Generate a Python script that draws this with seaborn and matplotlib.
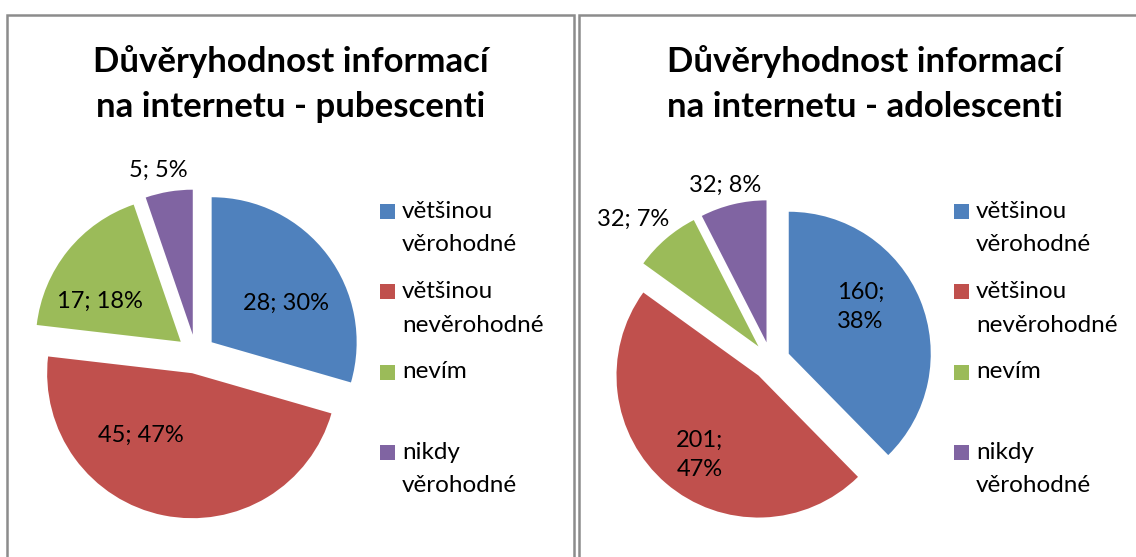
import matplotlib
matplotlib.use("Agg")
import matplotlib.pyplot as plt
import seaborn as sns
from matplotlib.patches import Rectangle

# --- data ---
categories = ["většinou\nvěrohodné", "většinou\nnevěrohodné", "nevím", "nikdy\nvěrohodné"]
pub_counts = [28, 45, 17, 5]
pub_pct = [30, 47, 18, 5]
ado_counts = [160, 201, 32, 32]
ado_pct = [38, 47, 7, 8]
titles = ["Důvěryhodnost informací\nna internetu - pubescenti",
          "Důvěryhodnost informací\nna internetu - adolescenti"]

# --- style ---
sns.set_theme(style="white")
plt.rcParams["font.family"] = ["Lato", "DejaVu Sans"]
colors = sns.color_palette(["#4F81BD", "#C0504D", "#9BBB59", "#8064A2"])

W, H = 1136, 557
fig = plt.figure(figsize=(W / 100, H / 100), dpi=100)
fig.patch.set_facecolor("white")


def fx(px):
    return px / W


def fy(py):
    return 1 - py / H


# chart frames
for x0, x1 in [(7, 574), (579, 1160)]:
    fig.add_artist(Rectangle((fx(x0), fy(600)), fx(x1 - x0), (600 - 15) / H,
                             transform=fig.transFigure, fill=False,
                             edgecolor="#8c8c8c", linewidth=1.8))

# pie settings: centre (px), radius (px), label positions in radius units
pies = [
    dict(counts=pub_counts, pct=pub_pct, title=titles[0], cx=196, cy=354, r=145,
         title_x=291, legend_x=380,
         label_xy=[(0.62, 0.35), (-0.38, -0.56), (-0.66, 0.36), (-0.26, 1.27)],
         wrap=[False, False, False, False]),
    dict(counts=ado_counts, pct=ado_pct, title=titles[1], cx=771, cy=361, r=142,
         title_x=865, legend_x=954,
         label_xy=[(0.63, 0.38), (-0.50, -0.66), (-0.97, 1.00), (-0.32, 1.24)],
         wrap=[True, True, False, False]),
]

for p in pies:
    L = 1.5 * p["r"]
    ax = fig.add_axes([fx(p["cx"] - L), fy(p["cy"] + L), fx(2 * L), 2 * L / H])
    ax.pie(p["counts"], colors=colors, startangle=90, counterclock=False,
           explode=[0.135] * len(p["counts"]),
           wedgeprops=dict(linewidth=0))
    ax.set_xlim(-1.5, 1.5)
    ax.set_ylim(-1.5, 1.5)
    ax.set_aspect("equal")
    ax.axis("off")
    for c, pc, (lx, ly), wrap in zip(p["counts"], p["pct"], p["label_xy"], p["wrap"]):
        sep = ";\n" if wrap else "; "
        ax.text(lx, ly, f"{c}{sep}{pc}%", ha="center", va="center",
                fontsize=17, color="black", linespacing=1.45)

    fig.text(fx(p["title_x"]), fy(84), p["title"], ha="center", va="center",
             fontsize=25, fontweight="bold", color="black", linespacing=1.5)

    # legend
    for i, (lab, col) in enumerate(zip(categories, colors)):
        yc = 211 + i * 80.5
        fig.add_artist(Rectangle((fx(p["legend_x"]), fy(yc + 7.5)), fx(15), 15 / H,
                                 transform=fig.transFigure, facecolor=col,
                                 edgecolor="none"))
        for j, line in enumerate(lab.split("\n")):
            fig.text(fx(p["legend_x"] + 22), fy(yc + j * 33.5), line,
                     ha="left", va="center", fontsize=17.5, color="black")

fig.savefig("out.png", dpi=100, facecolor="white")
